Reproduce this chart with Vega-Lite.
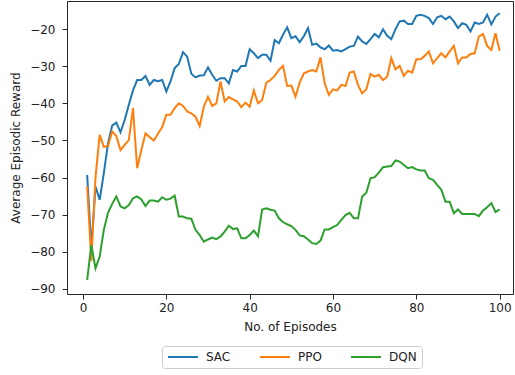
{
"$schema": "https://vega.github.io/schema/vega-lite/v6.json",
"width": 446, "height": 293,
"autosize": {"type": "none"},
"padding": {"left": 67, "top": 1, "right": 2, "bottom": 81},
"background": "white",
"config": {"view": {"stroke": "#262626", "strokeWidth": 1}, "font": "DejaVu Sans",
  "axis": {"grid": false, "domain": false, "tickColor": "#262626", "tickSize": 5, "labelFontSize": 12, "titleFontSize": 12, "titleFontWeight": "normal", "labelColor": "#222", "titleColor": "#222", "labelFont": "DejaVu Sans", "titleFont": "DejaVu Sans"}},
"data": {"values": [
{"x":1,"m":"SAC","y":-59.3},{"x":2,"m":"SAC","y":-79},{"x":3,"m":"SAC","y":-62.4},{"x":4,"m":"SAC","y":-66},{"x":5,"m":"SAC","y":-58.8},{"x":6,"m":"SAC","y":-50.8},{"x":7,"m":"SAC","y":-46},{"x":8,"m":"SAC","y":-45.2},{"x":9,"m":"SAC","y":-47.8},{"x":10,"m":"SAC","y":-44.5},
{"x":11,"m":"SAC","y":-40.4},{"x":12,"m":"SAC","y":-36.5},{"x":13,"m":"SAC","y":-33.7},{"x":14,"m":"SAC","y":-33.7},{"x":15,"m":"SAC","y":-32.6},{"x":16,"m":"SAC","y":-35},{"x":17,"m":"SAC","y":-33.7},{"x":18,"m":"SAC","y":-34},{"x":19,"m":"SAC","y":-33.7},{"x":20,"m":"SAC","y":-36.8},
{"x":21,"m":"SAC","y":-34.1},{"x":22,"m":"SAC","y":-30.5},{"x":23,"m":"SAC","y":-29.4},{"x":24,"m":"SAC","y":-26.2},{"x":25,"m":"SAC","y":-27.4},{"x":26,"m":"SAC","y":-32},{"x":27,"m":"SAC","y":-33},{"x":28,"m":"SAC","y":-32.5},{"x":29,"m":"SAC","y":-32.4},{"x":30,"m":"SAC","y":-30.3},
{"x":31,"m":"SAC","y":-32.3},{"x":32,"m":"SAC","y":-33.9},{"x":33,"m":"SAC","y":-33.2},{"x":34,"m":"SAC","y":-33.2},{"x":35,"m":"SAC","y":-34.6},{"x":36,"m":"SAC","y":-31},{"x":37,"m":"SAC","y":-31.4},{"x":38,"m":"SAC","y":-29.9},{"x":39,"m":"SAC","y":-29.9},{"x":40,"m":"SAC","y":-25.4},
{"x":41,"m":"SAC","y":-26.5},{"x":42,"m":"SAC","y":-27.8},{"x":43,"m":"SAC","y":-26.9},{"x":44,"m":"SAC","y":-26.9},{"x":45,"m":"SAC","y":-28.5},{"x":46,"m":"SAC","y":-22.9},{"x":47,"m":"SAC","y":-23.8},{"x":48,"m":"SAC","y":-21.5},{"x":49,"m":"SAC","y":-19.5},{"x":50,"m":"SAC","y":-22.4},
{"x":51,"m":"SAC","y":-21.9},{"x":52,"m":"SAC","y":-23.5},{"x":53,"m":"SAC","y":-21.9},{"x":54,"m":"SAC","y":-19.7},{"x":55,"m":"SAC","y":-24.2},{"x":56,"m":"SAC","y":-23.9},{"x":57,"m":"SAC","y":-24.9},{"x":58,"m":"SAC","y":-25.4},{"x":59,"m":"SAC","y":-24.4},{"x":60,"m":"SAC","y":-25.8},
{"x":61,"m":"SAC","y":-25.6},{"x":62,"m":"SAC","y":-26},{"x":63,"m":"SAC","y":-25.4},{"x":64,"m":"SAC","y":-24.7},{"x":65,"m":"SAC","y":-24.5},{"x":66,"m":"SAC","y":-22},{"x":67,"m":"SAC","y":-23.3},{"x":68,"m":"SAC","y":-24},{"x":69,"m":"SAC","y":-22.7},{"x":70,"m":"SAC","y":-21.3},
{"x":71,"m":"SAC","y":-22.2},{"x":72,"m":"SAC","y":-20},{"x":73,"m":"SAC","y":-21.8},{"x":74,"m":"SAC","y":-22.7},{"x":75,"m":"SAC","y":-20},{"x":76,"m":"SAC","y":-17.9},{"x":77,"m":"SAC","y":-17.7},{"x":78,"m":"SAC","y":-18.6},{"x":79,"m":"SAC","y":-18.6},{"x":80,"m":"SAC","y":-16.4},
{"x":81,"m":"SAC","y":-16.1},{"x":82,"m":"SAC","y":-16.4},{"x":83,"m":"SAC","y":-17},{"x":84,"m":"SAC","y":-18.6},{"x":85,"m":"SAC","y":-16.8},{"x":86,"m":"SAC","y":-16.4},{"x":87,"m":"SAC","y":-17.3},{"x":88,"m":"SAC","y":-16.6},{"x":89,"m":"SAC","y":-17.9},{"x":90,"m":"SAC","y":-19.7},
{"x":91,"m":"SAC","y":-18.4},{"x":92,"m":"SAC","y":-18.8},{"x":93,"m":"SAC","y":-20.6},{"x":94,"m":"SAC","y":-18.2},{"x":95,"m":"SAC","y":-18.6},{"x":96,"m":"SAC","y":-18.2},{"x":97,"m":"SAC","y":-16.1},{"x":98,"m":"SAC","y":-18.7},{"x":99,"m":"SAC","y":-16.6},{"x":100,"m":"SAC","y":-15.7},
{"x":1,"m":"PPO","y":-62.4},{"x":2,"m":"PPO","y":-82.5},{"x":3,"m":"PPO","y":-60},{"x":4,"m":"PPO","y":-48.5},{"x":5,"m":"PPO","y":-51.7},{"x":6,"m":"PPO","y":-51.5},{"x":7,"m":"PPO","y":-47.6},{"x":8,"m":"PPO","y":-48.8},{"x":9,"m":"PPO","y":-52.6},{"x":10,"m":"PPO","y":-51.2},
{"x":11,"m":"PPO","y":-49.9},{"x":12,"m":"PPO","y":-41.3},{"x":13,"m":"PPO","y":-57.5},{"x":14,"m":"PPO","y":-52.6},{"x":15,"m":"PPO","y":-48.1},{"x":16,"m":"PPO","y":-49.1},{"x":17,"m":"PPO","y":-50},{"x":18,"m":"PPO","y":-48.2},{"x":19,"m":"PPO","y":-46.4},{"x":20,"m":"PPO","y":-43.1},
{"x":21,"m":"PPO","y":-43.1},{"x":22,"m":"PPO","y":-41.3},{"x":23,"m":"PPO","y":-40},{"x":24,"m":"PPO","y":-40.7},{"x":25,"m":"PPO","y":-42.2},{"x":26,"m":"PPO","y":-42.7},{"x":27,"m":"PPO","y":-43.6},{"x":28,"m":"PPO","y":-46.1},{"x":29,"m":"PPO","y":-40.9},{"x":30,"m":"PPO","y":-38.2},
{"x":31,"m":"PPO","y":-40.7},{"x":32,"m":"PPO","y":-40},{"x":33,"m":"PPO","y":-34.1},{"x":34,"m":"PPO","y":-39.5},{"x":35,"m":"PPO","y":-38.3},{"x":36,"m":"PPO","y":-38.9},{"x":37,"m":"PPO","y":-39.5},{"x":38,"m":"PPO","y":-41},{"x":39,"m":"PPO","y":-39.8},{"x":40,"m":"PPO","y":-40.9},
{"x":41,"m":"PPO","y":-36.5},{"x":42,"m":"PPO","y":-40},{"x":43,"m":"PPO","y":-39.1},{"x":44,"m":"PPO","y":-34.4},{"x":45,"m":"PPO","y":-33.7},{"x":46,"m":"PPO","y":-32.6},{"x":47,"m":"PPO","y":-31},{"x":48,"m":"PPO","y":-29.9},{"x":49,"m":"PPO","y":-35.3},{"x":50,"m":"PPO","y":-35.2},
{"x":51,"m":"PPO","y":-38.2},{"x":52,"m":"PPO","y":-34.4},{"x":53,"m":"PPO","y":-31.9},{"x":54,"m":"PPO","y":-31.4},{"x":55,"m":"PPO","y":-31},{"x":56,"m":"PPO","y":-31.4},{"x":57,"m":"PPO","y":-27.6},{"x":58,"m":"PPO","y":-34.6},{"x":59,"m":"PPO","y":-37.7},{"x":60,"m":"PPO","y":-36.2},
{"x":61,"m":"PPO","y":-36.5},{"x":62,"m":"PPO","y":-35},{"x":63,"m":"PPO","y":-35.3},{"x":64,"m":"PPO","y":-31.7},{"x":65,"m":"PPO","y":-31.4},{"x":66,"m":"PPO","y":-35},{"x":67,"m":"PPO","y":-37.3},{"x":68,"m":"PPO","y":-36.2},{"x":69,"m":"PPO","y":-32.1},{"x":70,"m":"PPO","y":-32.8},
{"x":71,"m":"PPO","y":-32.3},{"x":72,"m":"PPO","y":-33.7},{"x":73,"m":"PPO","y":-32.8},{"x":74,"m":"PPO","y":-27.8},{"x":75,"m":"PPO","y":-30.8},{"x":76,"m":"PPO","y":-29.9},{"x":77,"m":"PPO","y":-32.6},{"x":78,"m":"PPO","y":-31.2},{"x":79,"m":"PPO","y":-31.7},{"x":80,"m":"PPO","y":-28.1},
{"x":81,"m":"PPO","y":-28.1},{"x":82,"m":"PPO","y":-27.2},{"x":83,"m":"PPO","y":-26},{"x":84,"m":"PPO","y":-29.2},{"x":85,"m":"PPO","y":-27.8},{"x":86,"m":"PPO","y":-26.5},{"x":87,"m":"PPO","y":-27.6},{"x":88,"m":"PPO","y":-26},{"x":89,"m":"PPO","y":-24.5},{"x":90,"m":"PPO","y":-29.2},
{"x":91,"m":"PPO","y":-27.6},{"x":92,"m":"PPO","y":-27.6},{"x":93,"m":"PPO","y":-26.7},{"x":94,"m":"PPO","y":-26.5},{"x":95,"m":"PPO","y":-22},{"x":96,"m":"PPO","y":-21.3},{"x":97,"m":"PPO","y":-24.5},{"x":98,"m":"PPO","y":-25.6},{"x":99,"m":"PPO","y":-21.1},{"x":100,"m":"PPO","y":-25.8},
{"x":1,"m":"DQN","y":-87.6},{"x":2,"m":"DQN","y":-78.2},{"x":3,"m":"DQN","y":-84.5},{"x":4,"m":"DQN","y":-81.3},{"x":5,"m":"DQN","y":-74.1},{"x":6,"m":"DQN","y":-69.5},{"x":7,"m":"DQN","y":-67.1},{"x":8,"m":"DQN","y":-65.1},{"x":9,"m":"DQN","y":-67.8},{"x":10,"m":"DQN","y":-68.3},
{"x":11,"m":"DQN","y":-67.4},{"x":12,"m":"DQN","y":-65.6},{"x":13,"m":"DQN","y":-65.1},{"x":14,"m":"DQN","y":-65.9},{"x":15,"m":"DQN","y":-67.7},{"x":16,"m":"DQN","y":-66.2},{"x":17,"m":"DQN","y":-66.2},{"x":18,"m":"DQN","y":-66.5},{"x":19,"m":"DQN","y":-65.3},{"x":20,"m":"DQN","y":-66},
{"x":21,"m":"DQN","y":-65.7},{"x":22,"m":"DQN","y":-64.9},{"x":23,"m":"DQN","y":-70.5},{"x":24,"m":"DQN","y":-70.5},{"x":25,"m":"DQN","y":-71},{"x":26,"m":"DQN","y":-71.1},{"x":27,"m":"DQN","y":-74.1},{"x":28,"m":"DQN","y":-75.5},{"x":29,"m":"DQN","y":-77.3},{"x":30,"m":"DQN","y":-76.7},
{"x":31,"m":"DQN","y":-76.2},{"x":32,"m":"DQN","y":-76.6},{"x":33,"m":"DQN","y":-75.9},{"x":34,"m":"DQN","y":-74.6},{"x":35,"m":"DQN","y":-73},{"x":36,"m":"DQN","y":-73.9},{"x":37,"m":"DQN","y":-73.7},{"x":38,"m":"DQN","y":-76.4},{"x":39,"m":"DQN","y":-76.4},{"x":40,"m":"DQN","y":-75.5},
{"x":41,"m":"DQN","y":-74.3},{"x":42,"m":"DQN","y":-75.8},{"x":43,"m":"DQN","y":-68.6},{"x":44,"m":"DQN","y":-68.3},{"x":45,"m":"DQN","y":-68.7},{"x":46,"m":"DQN","y":-68.9},{"x":47,"m":"DQN","y":-71},{"x":48,"m":"DQN","y":-72},{"x":49,"m":"DQN","y":-72.6},{"x":50,"m":"DQN","y":-73.1},
{"x":51,"m":"DQN","y":-74.1},{"x":52,"m":"DQN","y":-75.6},{"x":53,"m":"DQN","y":-75.8},{"x":54,"m":"DQN","y":-76.7},{"x":55,"m":"DQN","y":-77.7},{"x":56,"m":"DQN","y":-77.9},{"x":57,"m":"DQN","y":-77},{"x":58,"m":"DQN","y":-74},{"x":59,"m":"DQN","y":-74},{"x":60,"m":"DQN","y":-73.4},
{"x":61,"m":"DQN","y":-72.8},{"x":62,"m":"DQN","y":-71.4},{"x":63,"m":"DQN","y":-70.1},{"x":64,"m":"DQN","y":-69.5},{"x":65,"m":"DQN","y":-71},{"x":66,"m":"DQN","y":-71},{"x":67,"m":"DQN","y":-65.1},{"x":68,"m":"DQN","y":-64.1},{"x":69,"m":"DQN","y":-60.2},{"x":70,"m":"DQN","y":-59.9},
{"x":71,"m":"DQN","y":-58.7},{"x":72,"m":"DQN","y":-57.2},{"x":73,"m":"DQN","y":-57},{"x":74,"m":"DQN","y":-56.9},{"x":75,"m":"DQN","y":-55.4},{"x":76,"m":"DQN","y":-55.7},{"x":77,"m":"DQN","y":-56.6},{"x":78,"m":"DQN","y":-57.5},{"x":79,"m":"DQN","y":-57.2},{"x":80,"m":"DQN","y":-57.8},
{"x":81,"m":"DQN","y":-58.1},{"x":82,"m":"DQN","y":-58.1},{"x":83,"m":"DQN","y":-60.2},{"x":84,"m":"DQN","y":-60.6},{"x":85,"m":"DQN","y":-62},{"x":86,"m":"DQN","y":-63.3},{"x":87,"m":"DQN","y":-66.5},{"x":88,"m":"DQN","y":-66.5},{"x":89,"m":"DQN","y":-69.6},{"x":90,"m":"DQN","y":-68.6},
{"x":91,"m":"DQN","y":-69.8},{"x":92,"m":"DQN","y":-69.8},{"x":93,"m":"DQN","y":-69.8},{"x":94,"m":"DQN","y":-69.8},{"x":95,"m":"DQN","y":-70.4},{"x":96,"m":"DQN","y":-68.9},{"x":97,"m":"DQN","y":-68},{"x":98,"m":"DQN","y":-66.9},{"x":99,"m":"DQN","y":-69.3},{"x":100,"m":"DQN","y":-68.6}
]},
"mark": {"type": "line", "strokeWidth": 2},
"encoding": {
  "x": {"field": "x", "type": "quantitative", "scale": {"domain": [-3.84, 103.2], "nice": false, "zero": false},
    "axis": {"values": [0, 20, 40, 60, 80, 100], "title": "No. of Episodes", "labelPadding": 3, "titlePadding": 8}},
  "y": {"field": "y", "type": "quantitative", "scale": {"domain": [-91.4, -12.4], "nice": false, "zero": false},
    "axis": {"values": [-90, -80, -70, -60, -50, -40, -30, -20], "title": "Average Episodic Reward", "labelPadding": 7, "titlePadding": 7}},
  "color": {"field": "m", "type": "nominal", "sort": null,
    "scale": {"domain": ["SAC", "PPO", "DQN"], "range": ["#1f77b4", "#ff7f0e", "#2ca02c"]},
    "legend": {"title": null, "orient": "none", "legendX": 95, "legendY": 345, "direction": "horizontal", "columns": 3,
      "symbolType": "M-1,0H5", "symbolSize": 100, "symbolStrokeWidth": 2, "labelFontSize": 12, "labelOffset": 27, "labelColor": "#222",
      "columnPadding": 25, "padding": 5, "strokeColor": "#cccccc", "cornerRadius": 3, "fillColor": "white"}}
}
}
